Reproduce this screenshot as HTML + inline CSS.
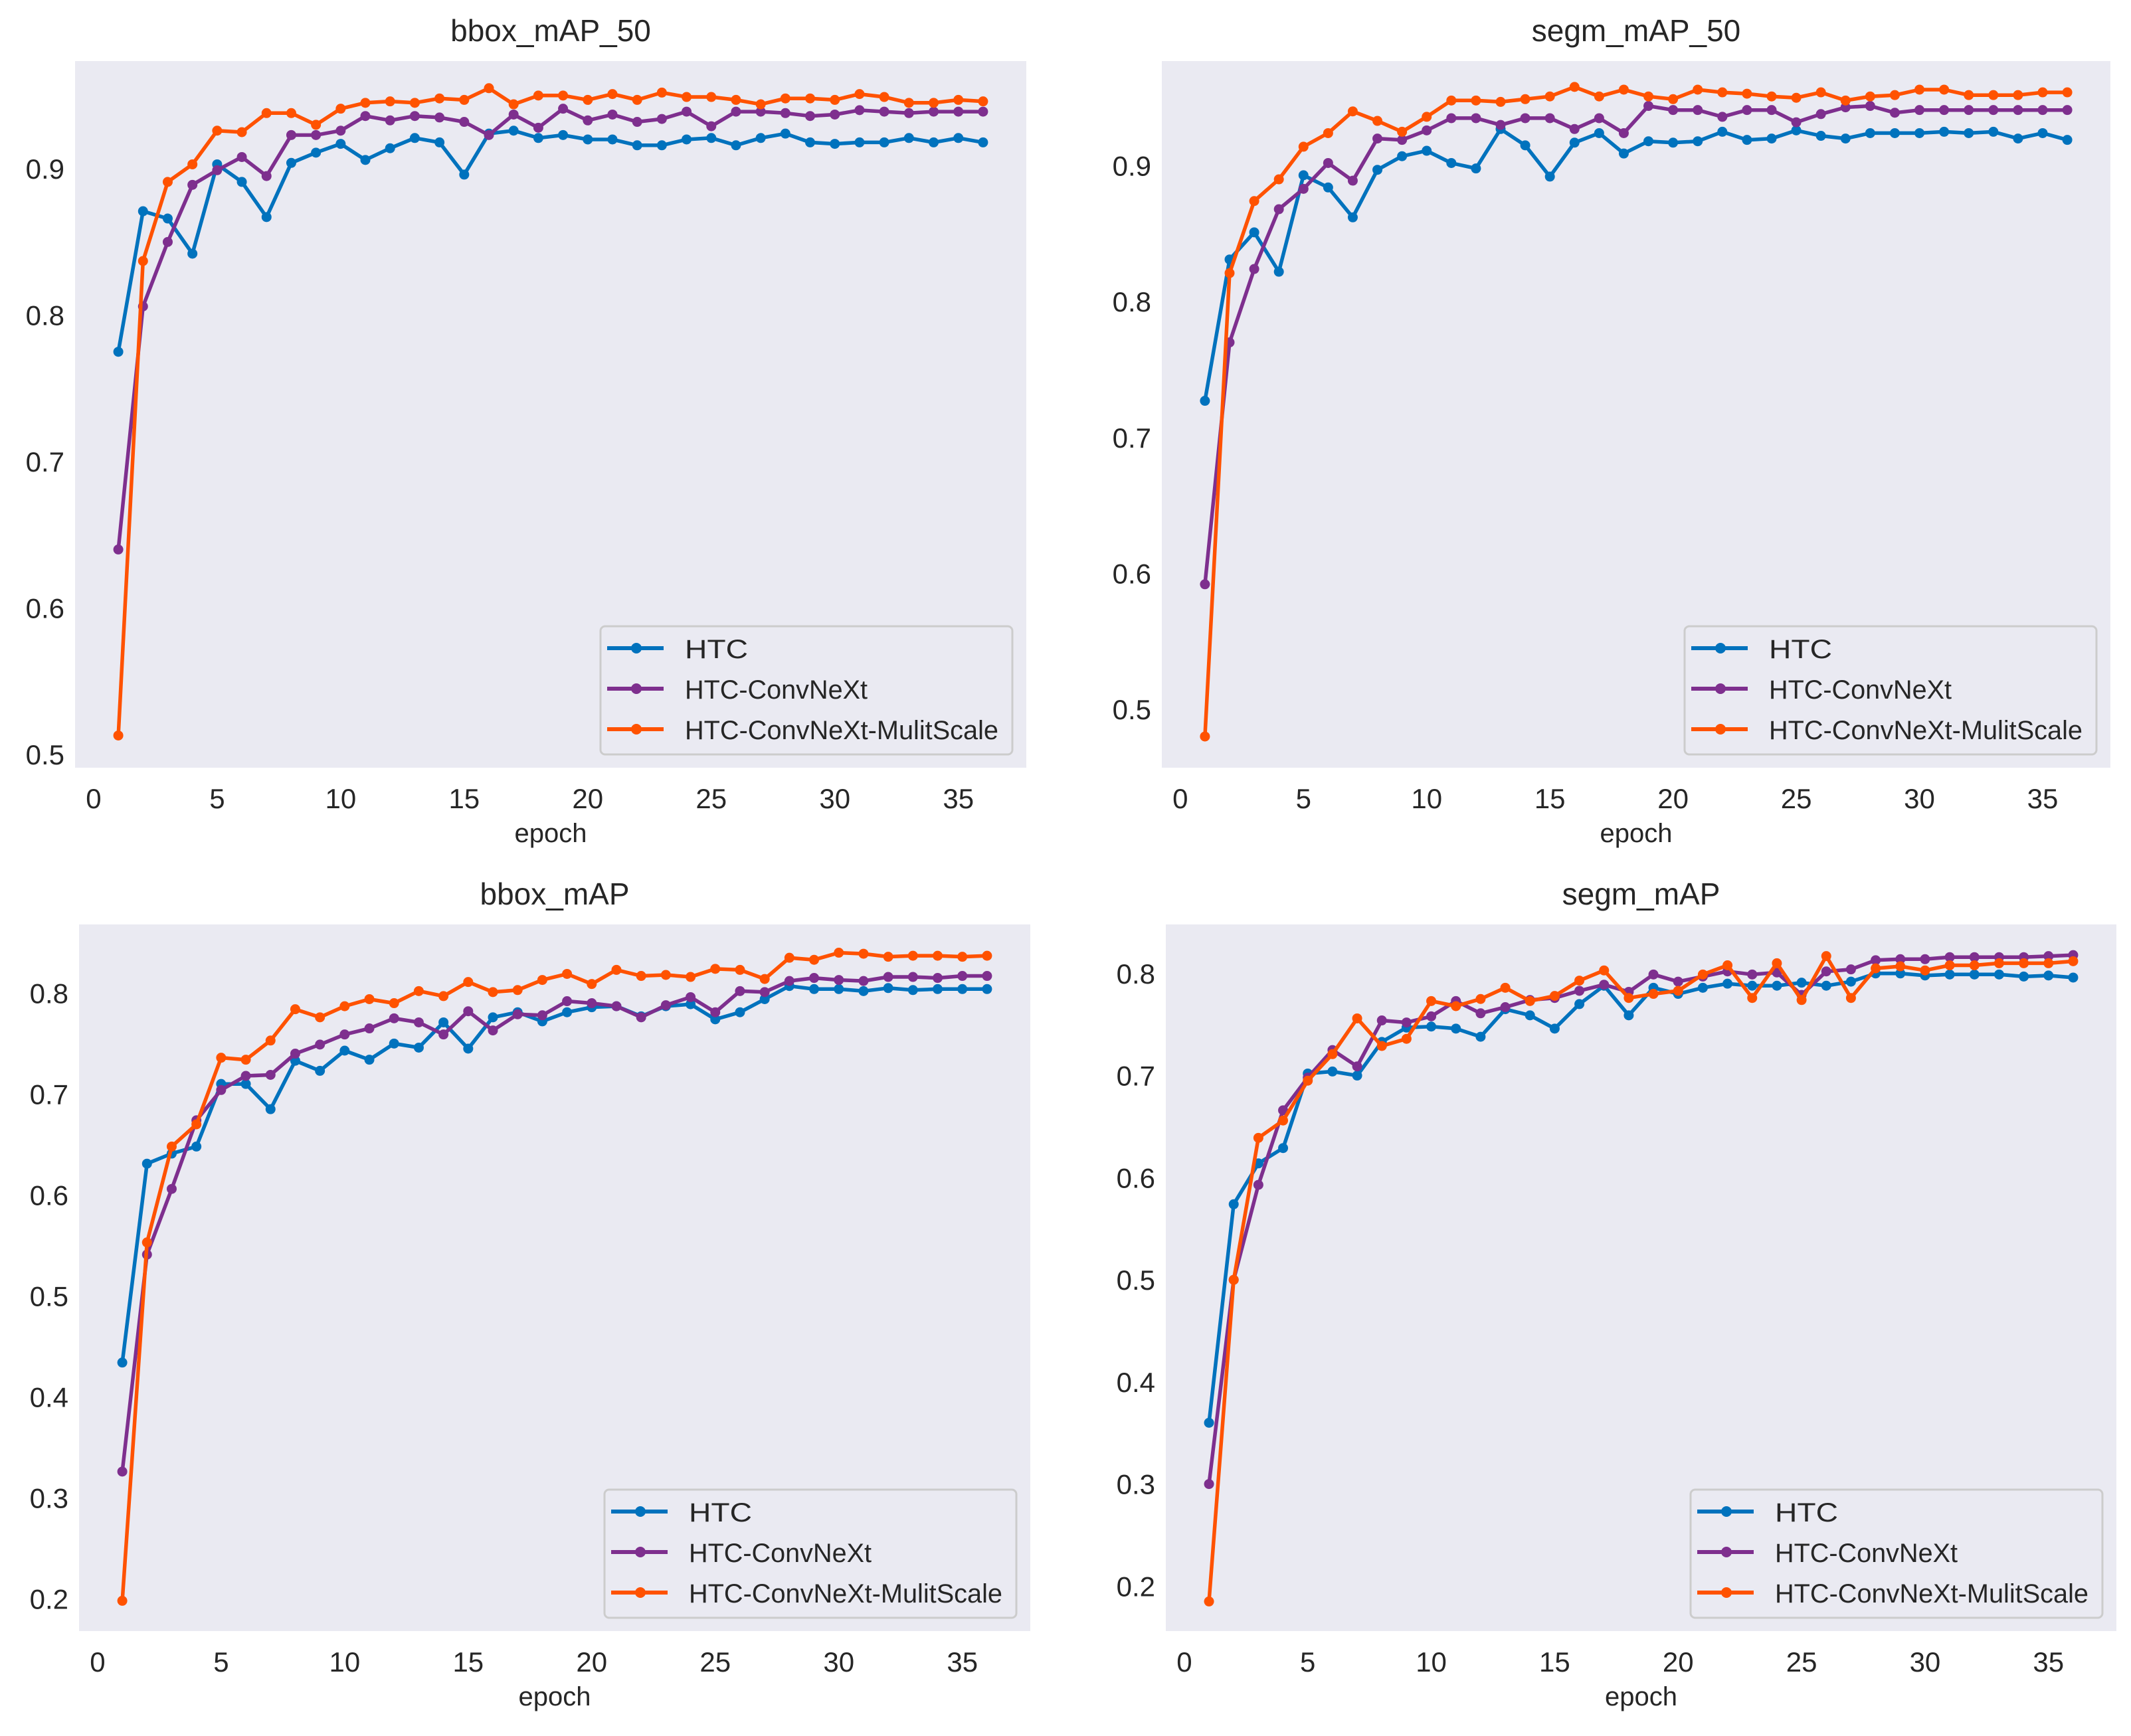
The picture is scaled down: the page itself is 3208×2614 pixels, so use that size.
<!DOCTYPE html>
<html><head><meta charset="utf-8"><style>
html,body{margin:0;padding:0;background:#fff;}
svg{display:block;}
text{font-family:"Liberation Sans",Arial,sans-serif;fill:#262626;}
</style></head><body>
<svg id="fig" width="3208" height="2614" viewBox="0 0 3208 2614" xmlns="http://www.w3.org/2000/svg"></svg>
<script>
const epochs = [1,2,3,4,5,6,7,8,9,10,11,12,13,14,15,16,17,18,19,20,21,22,23,24,25,26,27,28,29,30,31,32,33,34,35,36];
const seriesNames = ["HTC","HTC-ConvNeXt","HTC-ConvNeXt-MulitScale"];
const xTicks = [0,5,10,15,20,25,30,35];

const bboxMap50Htc = [0.775,0.871,0.866,0.842,0.903,0.891,0.867,0.904,0.911,0.917,0.906,0.914,0.921,0.918,0.896,0.924,0.926,0.921,0.923,0.920,0.920,0.916,0.916,0.920,0.921,0.916,0.921,0.924,0.918,0.917,0.918,0.918,0.921,0.918,0.921,0.918];
const bboxMap50Conv = [0.640,0.806,0.850,0.889,0.899,0.908,0.895,0.923,0.923,0.926,0.936,0.933,0.936,0.935,0.932,0.923,0.937,0.928,0.941,0.933,0.937,0.932,0.934,0.939,0.929,0.939,0.939,0.938,0.936,0.937,0.940,0.939,0.938,0.939,0.939,0.939];
const bboxMap50Multi = [0.513,0.837,0.891,0.903,0.926,0.925,0.938,0.938,0.930,0.941,0.945,0.946,0.945,0.948,0.947,0.955,0.944,0.950,0.950,0.947,0.951,0.947,0.952,0.949,0.949,0.947,0.944,0.948,0.948,0.947,0.951,0.949,0.945,0.945,0.947,0.946];

const segmMap50Htc = [0.727,0.831,0.851,0.822,0.893,0.884,0.862,0.897,0.907,0.911,0.902,0.898,0.927,0.915,0.892,0.917,0.924,0.909,0.918,0.917,0.918,0.925,0.919,0.920,0.926,0.922,0.920,0.924,0.924,0.924,0.925,0.924,0.925,0.920,0.924,0.919];
const segmMap50Conv = [0.592,0.770,0.824,0.868,0.883,0.902,0.889,0.920,0.919,0.926,0.935,0.935,0.930,0.935,0.935,0.927,0.935,0.924,0.944,0.941,0.941,0.936,0.941,0.941,0.932,0.938,0.943,0.944,0.939,0.941,0.941,0.941,0.941,0.941,0.941,0.941];
const segmMap50Multi = [0.480,0.821,0.874,0.890,0.914,0.924,0.940,0.933,0.925,0.936,0.948,0.948,0.947,0.949,0.951,0.958,0.951,0.956,0.951,0.949,0.956,0.954,0.953,0.951,0.950,0.954,0.948,0.951,0.952,0.956,0.956,0.952,0.952,0.952,0.954,0.954];

const bboxMapHtc = [0.434,0.631,0.641,0.648,0.710,0.710,0.685,0.733,0.723,0.743,0.734,0.750,0.746,0.771,0.745,0.776,0.781,0.772,0.781,0.786,0.787,0.777,0.787,0.789,0.774,0.781,0.794,0.807,0.804,0.804,0.802,0.805,0.803,0.804,0.804,0.804];
const bboxMapConv = [0.326,0.541,0.606,0.674,0.704,0.718,0.719,0.740,0.749,0.759,0.765,0.775,0.771,0.759,0.782,0.763,0.779,0.778,0.792,0.790,0.787,0.776,0.788,0.796,0.781,0.802,0.801,0.812,0.815,0.813,0.812,0.816,0.816,0.815,0.817,0.817];
const bboxMapMulti = [0.198,0.553,0.648,0.670,0.736,0.734,0.753,0.784,0.776,0.787,0.794,0.790,0.802,0.797,0.811,0.801,0.803,0.813,0.819,0.809,0.823,0.817,0.818,0.816,0.824,0.823,0.814,0.835,0.833,0.840,0.839,0.836,0.837,0.837,0.836,0.837];

const segmMapHtc = [0.360,0.574,0.614,0.629,0.702,0.704,0.700,0.733,0.747,0.748,0.746,0.738,0.765,0.759,0.746,0.770,0.788,0.759,0.786,0.780,0.786,0.790,0.788,0.788,0.791,0.788,0.792,0.800,0.800,0.798,0.799,0.799,0.799,0.797,0.798,0.796];
const segmMapConv = [0.300,0.500,0.593,0.666,0.698,0.725,0.709,0.754,0.752,0.758,0.773,0.761,0.767,0.774,0.776,0.783,0.789,0.782,0.799,0.792,0.797,0.802,0.799,0.801,0.779,0.802,0.804,0.813,0.814,0.814,0.816,0.816,0.816,0.816,0.817,0.818];
const segmMapMulti = [0.185,0.500,0.639,0.656,0.695,0.721,0.756,0.729,0.736,0.773,0.768,0.775,0.786,0.773,0.778,0.793,0.803,0.776,0.780,0.783,0.799,0.808,0.776,0.810,0.774,0.817,0.776,0.805,0.807,0.803,0.808,0.808,0.810,0.810,0.810,0.812];

const yTicksTop = [0.5,0.6,0.7,0.8,0.9];
const yTicksBottom = [0.2,0.3,0.4,0.5,0.6,0.7,0.8];
const colors = ["#0072BD","#7E2F8E","#FF5200"];

const panels = [
  {name:"bbox-map-50", title:"bbox_mAP_50", x0:113, x1:1545, y0:92, y1:1156, ymin:0.491, ymax:0.9735, ticks:yTicksTop, data:[bboxMap50Htc,bboxMap50Conv,bboxMap50Multi]},
  {name:"segm-map-50", title:"segm_mAP_50", x0:1749, x1:3177, y0:92, y1:1156, ymin:0.457, ymax:0.977, ticks:yTicksTop, data:[segmMap50Htc,segmMap50Conv,segmMap50Multi]},
  {name:"bbox-map", title:"bbox_mAP", x0:119, x1:1551, y0:1392, y1:2456, ymin:0.168, ymax:0.868, ticks:yTicksBottom, data:[bboxMapHtc,bboxMapConv,bboxMapMulti]},
  {name:"segm-map", title:"segm_mAP", x0:1755, x1:3186, y0:1392, y1:2456, ymin:0.156, ymax:0.848, ticks:yTicksBottom, data:[segmMapHtc,segmMapConv,segmMapMulti]}
];

const NS = "http://www.w3.org/2000/svg";
const fig = document.getElementById('fig');
function mk(tag, attrs, parent){
  const e = document.createElementNS(NS, tag);
  for (const k in attrs) e.setAttribute(k, attrs[k]);
  parent.appendChild(e);
  return e;
}

panels.forEach(p => {
  const g = mk('g', {}, fig);
  
  
  const xs = v => p.x0 + (v + 0.75) / 38.5 * (p.x1 - p.x0);
  const ys = v => p.y1 - (v - p.ymin) / (p.ymax - p.ymin) * (p.y1 - p.y0);

  const bg = mk('rect', {x:p.x0, y:p.y0, width:p.x1-p.x0, height:p.y1-p.y0, fill:'#EAEAF2'}, g);
  
  

  const cx = (p.x0 + p.x1) / 2;
  const t = mk('text', {x:cx, y:p.y0 - 30, 'font-size':46, 'text-anchor':'middle'}, g);
  t.textContent = p.title;
  
  

  const xl = mk('text', {x:cx, y:p.y1 + 112, 'font-size':40, 'text-anchor':'middle'}, g);
  xl.textContent = 'epoch';
  
  

  xTicks.forEach(v => {
    const tl = mk('text', {x:xs(v), y:p.y1 + 61, 'font-size':42, 'text-anchor':'middle'}, g);
    tl.textContent = String(v);
    
    
  });
  p.ticks.forEach(v => {
    const tl = mk('text', {x:p.x0 - 16, y:ys(v) + 15, 'font-size':42, 'text-anchor':'end'}, g);
    tl.textContent = v.toFixed(1);
    
    
  });

  p.data.forEach((arr, si) => {
    const pts = arr.map((v, i) => xs(epochs[i]).toFixed(1) + ',' + ys(v).toFixed(1)).join(' ');
    const line = mk('polyline', {points:pts, fill:'none', stroke:colors[si], 'stroke-width':5.5, 'stroke-linejoin':'round'}, g);
    
    
    arr.forEach((v, i) => {
      const c = mk('circle', {cx:xs(epochs[i]), cy:ys(v), r:7.5, fill:colors[si]}, g);
      
      
    });
  });

  const lx = p.x1 - 641, ly = p.y1 - 213;
  const lg = mk('g', {}, g);
  
  
  mk('rect', {x:lx, y:ly, width:620, height:193, rx:7, fill:'#EAEAF2', stroke:'#CCCCCC', 'stroke-width':3}, lg);
  const tlen = [95, 275, 472];
  seriesNames.forEach((n, si) => {
    const ry = ly + 33 + si * 61;
    const le = mk('g', {}, lg);
    
    
    mk('line', {x1:lx+10, x2:lx+95, y1:ry, y2:ry, stroke:colors[si], 'stroke-width':6}, le);
    mk('circle', {cx:lx+54, cy:ry, r:8, fill:colors[si]}, le);
    const tx = mk('text', {x:lx+127, y:ry+15, 'font-size':40, textLength:tlen[si], lengthAdjust:'spacingAndGlyphs'}, le);
    tx.textContent = n;
  });
});
</script>
</body></html>
